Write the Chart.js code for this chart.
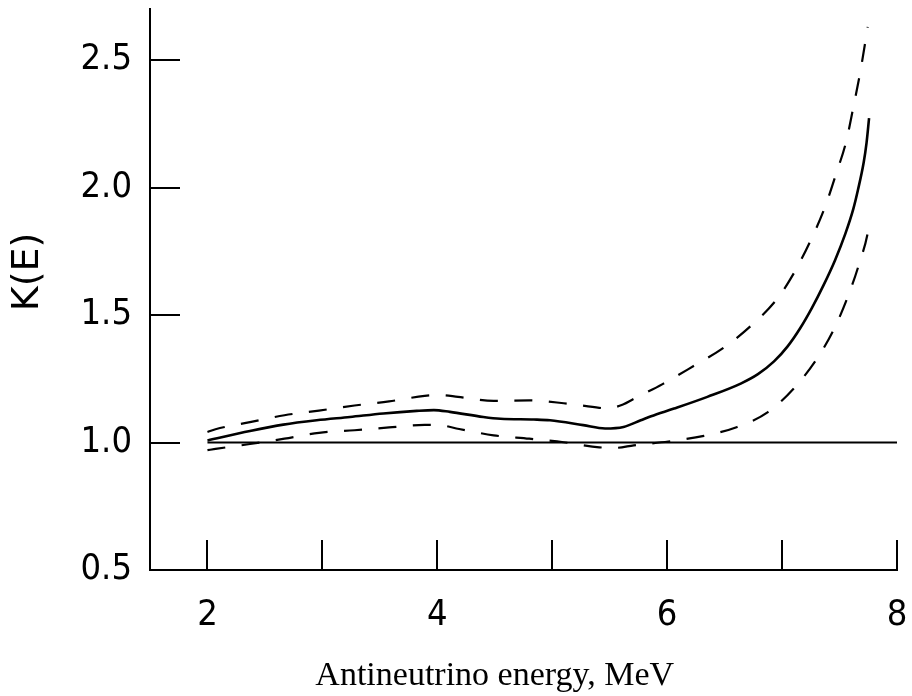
<!DOCTYPE html>
<html>
<head>
<meta charset="utf-8">
<script src="https://cdn.jsdelivr.net/npm/chart.js@4/dist/chart.umd.min.js"></script>
<style>
  html, body { margin: 0; padding: 0; background: #ffffff; }
  #wrap { width: 912px; height: 696px; }
</style>
</head>
<body>
<div id="wrap"><canvas id="c" width="912" height="696"></canvas></div>
<script>
// ---- data ----
const centralE = [2.00, 2.37, 2.66, 2.95, 3.24, 3.53, 3.82, 3.97, 4.11, 4.40, 4.55, 4.84, 4.98, 5.27, 5.46, 5.62, 5.77, 5.86, 6.06, 6.35, 6.64, 6.79, 6.93, 7.05, 7.16, 7.26, 7.36, 7.46, 7.55, 7.62, 7.66, 7.71, 7.735, 7.757];
const centralK = [1.008, 1.045, 1.070, 1.087, 1.100, 1.114, 1.124, 1.127, 1.120, 1.100, 1.093, 1.090, 1.087, 1.068, 1.055, 1.061, 1.087, 1.103, 1.133, 1.179, 1.231, 1.268, 1.318, 1.378, 1.450, 1.528, 1.616, 1.714, 1.818, 1.916, 1.990, 2.098, 2.175, 2.272];

const upperE = [2.00, 2.07, 2.37, 2.67, 2.97, 3.28, 3.58, 3.89, 4.02, 4.18, 4.49, 4.80, 5.10, 5.41, 5.48, 5.62, 5.70, 5.96, 6.23, 6.49, 6.73, 6.96, 7.11, 7.25, 7.37, 7.47, 7.56, 7.62, 7.68, 7.73, 7.745];
const upperK = [1.041, 1.052, 1.080, 1.107, 1.125, 1.145, 1.161, 1.183, 1.186, 1.179, 1.163, 1.165, 1.154, 1.136, 1.133, 1.150, 1.169, 1.229, 1.300, 1.371, 1.458, 1.565, 1.670, 1.794, 1.919, 2.053, 2.184, 2.315, 2.452, 2.587, 2.630];

const lowerE = [2.00, 2.07, 2.37, 2.67, 2.97, 3.28, 3.58, 3.89, 4.02, 4.19, 4.49, 4.80, 5.10, 5.41, 5.55, 5.71, 6.01, 6.32, 6.61, 6.88, 7.11, 7.30, 7.45, 7.57, 7.67, 7.75, 7.76];
const lowerK = [0.970, 0.975, 0.994, 1.015, 1.038, 1.048, 1.059, 1.069, 1.068, 1.053, 1.028, 1.015, 1.001, 0.981, 0.979, 0.989, 1.004, 1.026, 1.061, 1.120, 1.216, 1.326, 1.443, 1.569, 1.700, 1.833, 1.866];

const refE = [2, 8];
const refK = [1, 1];

const xTicks = [2, 3, 4, 5, 6, 7, 8];
const xLabeled = [2, 4, 6, 8];
const yTicks = [0.5, 1.0, 1.5, 2.0, 2.5];

const xTitle = 'Antineutrino energy, MeV';
const yTitle = 'K(E)';

// ---- build series ----
const pts = (xs, ys) => xs.map((v, i) => ({ x: v, y: ys[i] }));

const TICK_FONT = "'DejaVu Sans Condensed', 'DejaVu Sans', sans-serif";
const TICK_LEN = 30;

const innerTicks = {
  id: 'innerTicks',
  afterDraw(chart) {
    const { ctx, chartArea, scales } = chart;
    const xs = scales.x, ys = scales.y;
    ctx.save();
    ctx.strokeStyle = '#000';
    ctx.lineWidth = 2;
    ctx.beginPath();
    xs.ticks.forEach(t => {
      const px = Math.round(xs.getPixelForValue(t.value));
      ctx.moveTo(px, chartArea.bottom);
      ctx.lineTo(px, chartArea.bottom - TICK_LEN);
    });
    ys.ticks.forEach(t => {
      const py = Math.round(ys.getPixelForValue(t.value));
      ctx.moveTo(chartArea.left, py);
      ctx.lineTo(chartArea.left + TICK_LEN, py);
    });
    ctx.stroke();
    ctx.restore();
  }
};

const axisTitles = {
  id: 'axisTitles',
  afterDraw(chart) {
    const { ctx, scales } = chart;
    ctx.save();
    ctx.fillStyle = '#000';
    // x title
    ctx.font = "34px 'Liberation Serif', 'Times New Roman', serif";
    ctx.textAlign = 'center';
    ctx.textBaseline = 'alphabetic';
    ctx.fillText(xTitle, scales.x.getPixelForValue(4.5), chart.height - 11);
    // y title
    ctx.font = "38px 'DejaVu Sans', sans-serif";
    ctx.translate(28, 272);
    ctx.rotate(-Math.PI / 2);
    ctx.textBaseline = 'middle';
    ctx.fillText(yTitle, 0, 0);
    ctx.restore();
  }
};

const solid = (data) => ({
  data, borderColor: '#000', borderWidth: 2.6, pointRadius: 0,
  cubicInterpolationMode: 'monotone', fill: false
});
const dashed = (data) => ({
  data, borderColor: '#000', borderWidth: 2.2, pointRadius: 0,
  borderDash: [18, 16.5], cubicInterpolationMode: 'monotone', fill: false
});

new Chart(document.getElementById('c'), {
  type: 'line',
  data: {
    datasets: [
      Object.assign(solid(pts(refE, refK)), { label: 'K = 1', tension: 0, borderWidth: 2 }),
      Object.assign(solid(pts(centralE, centralK)), { label: 'K(E)' }),
      Object.assign(dashed(pts(upperE, upperK)), { label: 'upper bound' }),
      Object.assign(dashed(pts(lowerE, lowerK)), { label: 'lower bound' })
    ]
  },
  options: {
    responsive: false,
    animation: false,
    devicePixelRatio: 1,
    layout: { padding: { top: 9, right: 15, left: 0, bottom: 0 } },
    plugins: { legend: { display: false }, tooltip: { enabled: false } },
    scales: {
      x: {
        type: 'linear', min: 1.5, max: 8,
        afterBuildTicks: s => { s.ticks = xTicks.map(v => ({ value: v })); },
        afterFit: s => { s.height = 126; s.paddingLeft = 0; s.paddingRight = 0; },
        ticks: {
          autoSkip: false, maxRotation: 0, minRotation: 0,
          callback: v => (xLabeled.includes(v) ? String(v) : ''),
          color: '#000', padding: 24,
          font: { family: TICK_FONT, size: 36 }
        },
        grid: { display: true, drawOnChartArea: false, drawTicks: false },
        border: { display: true, color: '#000', width: 2 },
        title: { display: false }
      },
      y: {
        type: 'linear', min: 0.5, max: 2.7,
        afterBuildTicks: s => { s.ticks = yTicks.map(v => ({ value: v })); },
        afterFit: s => { s.width = 150; s.paddingTop = 0; s.paddingBottom = 0; },
        ticks: {
          autoSkip: false,
          callback: v => Number(v).toFixed(1),
          color: '#000', padding: 18,
          font: { family: TICK_FONT, size: 36 }
        },
        grid: { display: true, drawOnChartArea: false, drawTicks: false },
        border: { display: true, color: '#000', width: 2 },
        title: { display: false }
      }
    }
  },
  plugins: [innerTicks, axisTitles]
});
</script>
</body>
</html>
